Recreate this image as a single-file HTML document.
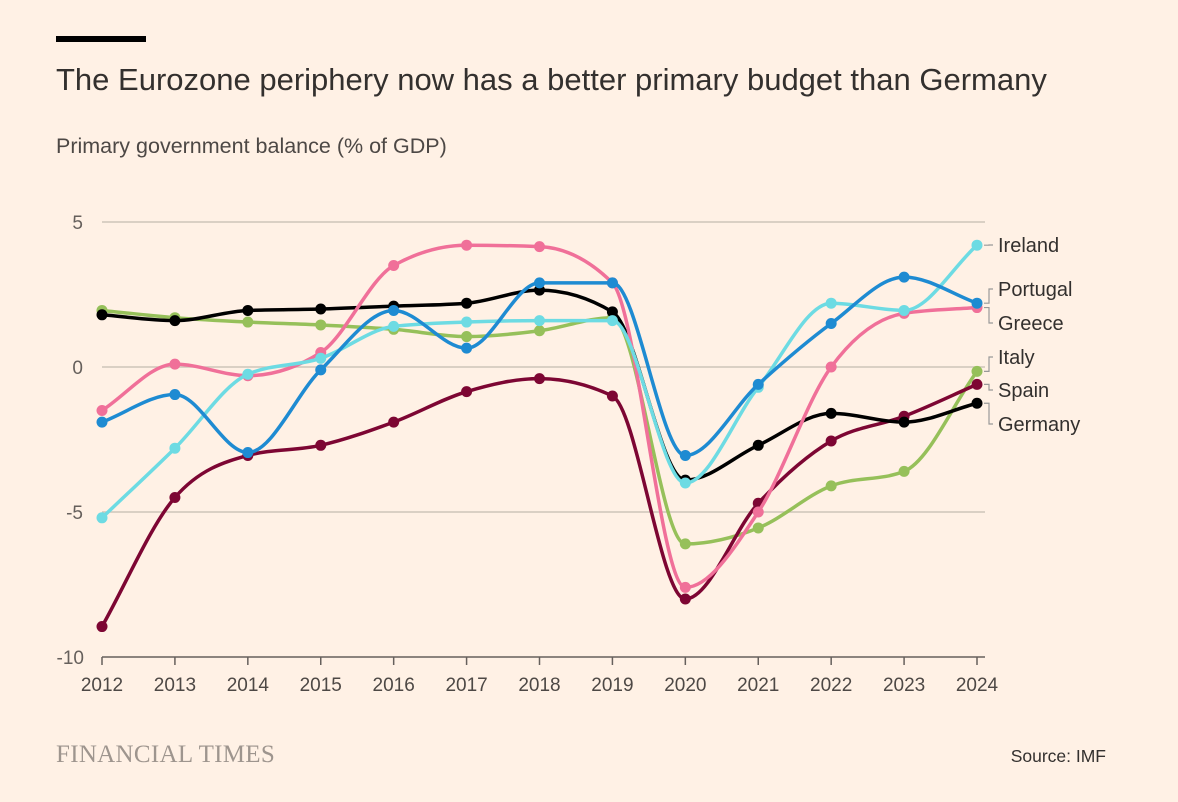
<!DOCTYPE html>
<html><head><meta charset="utf-8"><style>
html,body{margin:0;padding:0;background:#fff1e5;}
body{width:1178px;height:802px;overflow:hidden;font-family:"Liberation Sans",sans-serif;}
</style></head><body>
<svg width="1178" height="802" style="display:block">
<rect x="56" y="36" width="90" height="6" fill="#000"/>
<text x="56" y="90" font-size="31" fill="#33302e">The Eurozone periphery now has a better primary budget than Germany</text>
<text x="56" y="153" font-size="21.5" fill="#4d4845">Primary government balance (% of GDP)</text>
<g id="grid"></g>
<g id="series"></g>
<g id="labels"></g>
<text x="56" y="762" font-size="25" fill="#9e958e" font-family="Liberation Serif,serif" letter-spacing="0.3">FINANCIAL TIMES</text>
<text x="1106" y="762" font-size="17.5" fill="#33302e" text-anchor="end">Source: IMF</text>
</svg>
<script>
const years=[2012,2013,2014,2015,2016,2017,2018,2019,2020,2021,2022,2023,2024];
const yTicks=[5,0,-5,-10];
const seriesNames=["Italy","Spain","Germany","Greece","Ireland","Portugal"];
const germany=[1.8,1.6,1.95,2.0,2.1,2.2,2.65,1.9,-3.9,-2.7,-1.6,-1.9,-1.25];
const ireland=[-5.2,-2.8,-0.25,0.3,1.4,1.55,1.6,1.6,-4.0,-0.7,2.2,1.95,4.2];
const portugal=[-1.9,-0.95,-2.95,-0.1,1.95,0.65,2.9,2.9,-3.05,-0.6,1.5,3.1,2.2];
const greece=[-1.5,0.1,-0.3,0.5,3.5,4.2,4.15,2.9,-7.6,-5.0,0.0,1.85,2.05];
const italy=[1.95,1.7,1.55,1.45,1.3,1.05,1.25,1.7,-6.1,-5.55,-4.1,-3.6,-0.15];
const spain=[-8.95,-4.5,-3.05,-2.7,-1.9,-0.85,-0.4,-1.0,-8.0,-4.7,-2.55,-1.7,-0.6];
const NS="http://www.w3.org/2000/svg";
const X=y=>102+(y-2012)*(875/12);
const Y=v=>367-v*29;
function mk(t,a,p){const e=document.createElementNS(NS,t);for(const k in a)e.setAttribute(k,a[k]);p.appendChild(e);return e;}
const grid=document.getElementById('grid');
yTicks.forEach(t=>{
 const l=mk('line',{x1:102,x2:985,y1:Y(t),y2:Y(t),stroke:t===-10?'#66605c':'#cec6b9','stroke-width':1.5},grid);
 
 
 const tx=mk('text',{x:t===-10?84:83,y:Y(t)+7,'font-size':19,fill:'#66605c','text-anchor':'end'},grid);
 tx.textContent=t<0?'-'+Math.abs(t):String(t);
 
 
});
years.forEach(yr=>{
 const l=mk('line',{x1:X(yr),x2:X(yr),y1:657,y2:665,stroke:'#66605c','stroke-width':1.5},grid);
 
 
 const tx=mk('text',{x:X(yr),y:691,'font-size':19,fill:'#4d4845','text-anchor':'middle'},grid);
 tx.textContent=yr;
 
 
});
function monotone(pts){
 const n=pts.length,dx=[],s=[],m=[];
 for(let i=0;i<n-1;i++){dx[i]=pts[i+1][0]-pts[i][0];s[i]=(pts[i+1][1]-pts[i][1])/dx[i];}
 m[0]=s[0];m[n-1]=s[n-2];
 for(let i=1;i<n-1;i++){ if(s[i-1]*s[i]<=0)m[i]=0; else {const h0=dx[i-1],h1=dx[i];const p=(s[i-1]*h1+s[i]*h0)/(h0+h1);m[i]=(Math.sign(s[i-1])+Math.sign(s[i]))*Math.min(Math.abs(s[i-1]),Math.abs(s[i]),0.5*Math.abs(p));}}
 let d='M'+pts[0][0]+','+pts[0][1];
 for(let i=0;i<n-1;i++){const h=dx[i]/3;d+=`C${pts[i][0]+h},${pts[i][1]+m[i]*h} ${pts[i+1][0]-h},${pts[i+1][1]-m[i+1]*h} ${pts[i+1][0]},${pts[i+1][1]}`;}
 return d;
}
const sg=document.getElementById('series');
const defs=[["italy",italy,"#96c05a"],["spain",spain,"#7d0633"],["germany",germany,"#000000"],["greece",greece,"#f07099"],["ireland",ireland,"#6ddbe3"],["portugal",portugal,"#1e8bd2"]];
defs.forEach(([nm,vals,c])=>{
 const pts=vals.map((v,i)=>[X(years[i]),Y(v)]);
 const g=mk('g',{},sg);
 
 
 const p=mk('path',{d:monotone(pts),fill:'none',stroke:c,'stroke-width':3.5},g);
 
 
 pts.forEach((q,i)=>{const ci=mk('circle',{cx:q[0],cy:q[1],r:5.5,fill:c},g);
  
  });
});
const lg=document.getElementById('labels');
const labelNames=["Ireland","Portugal","Greece","Italy","Spain","Germany"];
const labelVals=[ireland[12],portugal[12],greece[12],italy[12],spain[12],germany[12]];
const labelY=[245,289,323,357,390,424];
labelNames.forEach((n,i)=>{
 const ly=labelY[i],vy=Y(labelVals[i]);
 const pl=mk('polyline',{points:`${984},${vy} ${989},${vy} ${989},${ly} ${993},${ly}`,fill:'none',stroke:'#999','stroke-width':1.2},lg);
 
 
 const t=mk('text',{x:998,y:ly+7,'font-size':20,fill:'#33302e'},lg);
 t.textContent=n;
 
 
});
</script>
</body></html>
